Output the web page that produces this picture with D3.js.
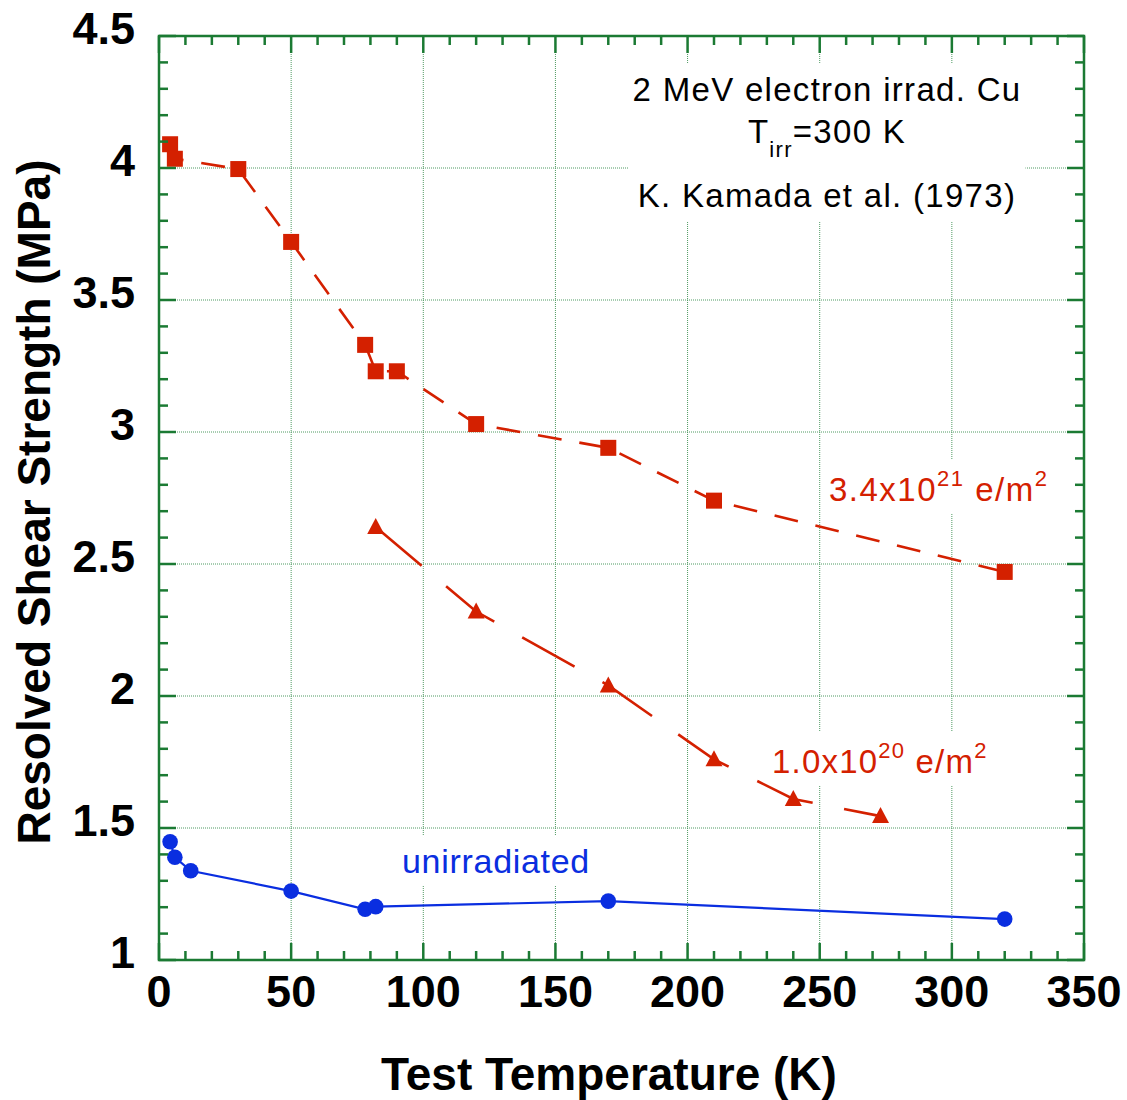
<!DOCTYPE html>
<html lang="en">
<head>
<meta charset="UTF-8"/>
<title>Resolved shear strength vs test temperature</title>
<script src="https://d3js.org/d3.v7.min.js"></script>
<style>
    body { margin: 0; background: white; }
    text { font-family: "Liberation Sans", Arial, Helvetica, sans-serif; }
</style>
</head>
<body>
<script>
    // Data (K. Kamada et al. 1973)
    var tempSquare  = [4.2, 6, 30, 50, 78, 82, 90, 120, 170, 210, 320];
    var shearSquare = [4.09, 4.035, 3.996, 3.72, 3.33, 3.23, 3.23, 3.03, 2.94, 2.74, 2.47];

    var tempTriangle  = [82, 120, 170, 210, 240, 273];
    var shearTriangle = [2.64, 2.32, 2.04, 1.76, 1.61, 1.545];

    var tempCircle  = [4.2, 6, 12, 50, 78, 82, 170, 320];
    var shearCircle = [1.448, 1.389, 1.338, 1.261, 1.192, 1.202, 1.223, 1.155];

    var xTicks = [0, 50, 100, 150, 200, 250, 300, 350];
    var yTicks = [1, 1.5, 2, 2.5, 3, 3.5, 4, 4.5];

    var red = "#d42000";
    var blue = "#0a2ee0";
    var axisGreen = "#1b7a33";

    // Setup of svg canvas
    var W = 1127, H = 1100;
    var margin = { top: 36, right: 43, bottom: 140, left: 159 };
    var w = W - margin.left - margin.right;
    var h = H - margin.top - margin.bottom;

    var svg = d3.select("body")
                .append("svg")
                .attr("width", W)
                .attr("height", H);

    var g = svg.append("g")
               .attr("transform", "translate(" + margin.left + "," + margin.top + ")");

    var xScale = d3.scaleLinear().domain([0, 350]).range([0, w]);
    var yScale = d3.scaleLinear().domain([1, 4.5]).range([h, 0]);

    // Grid lines (dotted)
    g.append("g").selectAll("line")
        .data(xTicks.slice(1, -1))
        .enter().append("line")
        .attr("x1", function(d) { return xScale(d); })
        .attr("x2", function(d) { return xScale(d); })
        .attr("y1", 0).attr("y2", h)
        .attr("stroke", "#4f9a62")
        .attr("stroke-width", 1)
        .attr("stroke-dasharray", "1,1");

    g.append("g").selectAll("line")
        .data(yTicks.slice(1, -1))
        .enter().append("line")
        .attr("y1", function(d) { return yScale(d); })
        .attr("y2", function(d) { return yScale(d); })
        .attr("x1", 0).attr("x2", w)
        .attr("stroke", "#4f9a62")
        .attr("stroke-width", 1)
        .attr("stroke-dasharray", "1,1");

    // Annotation boxes go above the grid, below the data
    var labelLayer = g.append("g");

    // Lines
    function drawSeries(xs, ys, color, dash, width) {
        var pts = xs.map(function(t, i) { return [t, ys[i]]; });
        var line = d3.line()
                     .x(function(d) { return xScale(d[0]); })
                     .y(function(d) { return yScale(d[1]); });
        g.append("path")
         .datum(pts)
         .attr("d", line)
         .attr("fill", "none")
         .attr("stroke", color)
         .attr("stroke-width", width)
         .attr("stroke-dasharray", dash);
        return pts;
    }

    var sqPts = drawSeries(tempSquare, shearSquare, red, "24,18", 2.6);
    var triPts = drawSeries(tempTriangle, shearTriangle, red, "60,32", 2.6);
    var cPts = drawSeries(tempCircle, shearCircle, blue, null, 2.2);

    // Markers
    g.selectAll(".sq")
        .data(sqPts)
        .enter().append("rect")
        .attr("class", "sq")
        .attr("x", function(d) { return xScale(d[0]) - 8; })
        .attr("y", function(d) { return yScale(d[1]) - 8; })
        .attr("width", 16).attr("height", 16)
        .attr("fill", red);

    g.selectAll(".tri")
        .data(triPts)
        .enter().append("path")
        .attr("class", "tri")
        .attr("transform", function(d) {
            return "translate(" + xScale(d[0]) + "," + yScale(d[1]) + ")";
        })
        .attr("d", "M0,-9 L8.5,7 L-8.5,7 Z")
        .attr("fill", red);

    g.selectAll(".circ")
        .data(cPts)
        .enter().append("circle")
        .attr("class", "circ")
        .attr("cx", function(d) { return xScale(d[0]); })
        .attr("cy", function(d) { return yScale(d[1]); })
        .attr("r", 7.8)
        .attr("fill", blue);

    // Frame and inward ticks on all four sides
    var frame = g.append("g").attr("stroke", axisGreen).attr("stroke-width", 2.5);
    frame.append("rect")
         .attr("x", 0).attr("y", 0).attr("width", w).attr("height", h)
         .attr("fill", "none");

    var xMinor = d3.range(0, 351, 10);
    var yMinor = d3.range(10, 46, 1).map(function(d) { return d / 10; });

    xMinor.forEach(function(t) {
        var len = (t % 50 === 0) ? 17 : 9;
        var x = xScale(t);
        frame.append("line").attr("x1", x).attr("x2", x).attr("y1", h).attr("y2", h - len);
        frame.append("line").attr("x1", x).attr("x2", x).attr("y1", 0).attr("y2", len);
    });
    yMinor.forEach(function(v) {
        var len = (Math.round(v * 10) % 5 === 0) ? 17 : 9;
        var y = yScale(v);
        frame.append("line").attr("x1", 0).attr("x2", len).attr("y1", y).attr("y2", y);
        frame.append("line").attr("x1", w).attr("x2", w - len).attr("y1", y).attr("y2", y);
    });

    // Tick labels
    g.append("g").selectAll("text")
        .data(xTicks)
        .enter().append("text")
        .attr("x", function(d) { return xScale(d); })
        .attr("y", h + 47)
        .attr("text-anchor", "middle")
        .attr("font-size", 45)
        .attr("font-weight", "bold")
        .text(function(d) { return d; });

    g.append("g").selectAll("text")
        .data(yTicks)
        .enter().append("text")
        .attr("x", -24)
        .attr("y", function(d) { return yScale(d) + 8; })
        .attr("text-anchor", "end")
        .attr("font-size", 45)
        .attr("font-weight", "bold")
        .text(function(d) { return d; });

    // Axis titles
    svg.append("text")
       .attr("x", 609)
       .attr("y", 1090)
       .attr("text-anchor", "middle")
       .attr("font-size", 46)
       .attr("font-weight", "bold")
       .text("Test Temperature (K)");

    svg.append("text")
       .attr("transform", "translate(50,502) rotate(-90)")
       .attr("text-anchor", "middle")
       .attr("font-size", 46)
       .attr("font-weight", "bold")
       .text("Resolved Shear Strength (MPa)");

    // Annotations with white backing boxes that cut the grid
    function addBox(node, padX, padY) {
        var b = node.getBBox();
        labelLayer.append("rect")
            .attr("x", b.x - margin.left - padX)
            .attr("y", b.y - margin.top - padY)
            .attr("width", b.width + 2 * padX)
            .attr("height", b.height + 2 * padY)
            .attr("fill", "white");
    }

    var info = svg.append("g").attr("font-size", 33).attr("letter-spacing", 1.3);
    info.append("text").attr("x", 827).attr("y", 101).attr("text-anchor", "middle")
        .text("2 MeV electron irrad. Cu");
    var tirr = info.append("text").attr("x", 827).attr("y", 143).attr("text-anchor", "middle");
    tirr.append("tspan").text("T");
    tirr.append("tspan").attr("font-size", 22).attr("dy", 14).text("irr");
    tirr.append("tspan").attr("dy", -14).text("=300 K");
    info.append("text").attr("x", 827).attr("y", 207).attr("text-anchor", "middle")
        .text("K. Kamada et al. (1973)");
    addBox(info.node(), 4, 8);

    function expLabel(x, y, base, exp, color) {
        var t = svg.append("text").attr("x", x).attr("y", y)
                   .attr("font-size", 33).attr("fill", color)
                   .attr("letter-spacing", 1.2);
        t.append("tspan").text(base);
        t.append("tspan").attr("font-size", 22).attr("dy", -15).text(exp);
        t.append("tspan").attr("dy", 15).text(" e/m");
        t.append("tspan").attr("font-size", 22).attr("dy", -15).text("2");
        return t;
    }

    var lab1 = expLabel(829, 501, "3.4x10", "21", red);
    lab1.attr("letter-spacing", 1.5);
    addBox(lab1.node(), 4, 6);
    var lab2 = expLabel(772, 773, "1.0x10", "20", red);
    addBox(lab2.node(), 4, 6);

    var lab3 = svg.append("text").attr("x", 402).attr("y", 873)
                  .attr("font-size", 34).attr("fill", blue)
                  .attr("letter-spacing", 0.7)
                  .text("unirradiated");
    addBox(lab3.node(), 4, 6);
</script>
</body>
</html>
